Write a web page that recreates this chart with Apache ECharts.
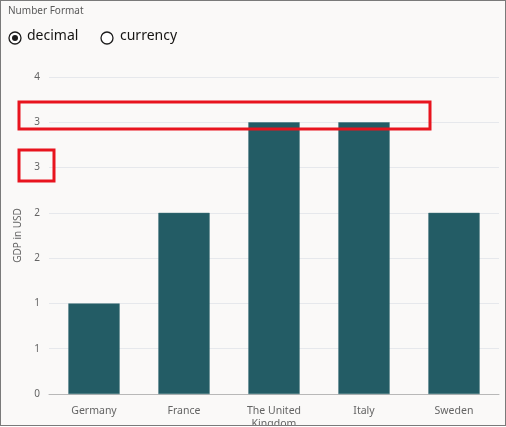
<!DOCTYPE html>
<html><head><meta charset="utf-8">
<script src="https://cdn.jsdelivr.net/npm/echarts@6/dist/echarts.min.js"></script>
<style>
html,body{margin:0;padding:0;background:#fff;}
#c{position:absolute;left:0;top:0;width:504px;height:424px;border:1px solid #7a7a7a;background:#faf9f8;}
</style></head>
<body><div id="c"></div>
<script>
const categories = ['Germany', 'France', 'The United\nKingdom', 'Italy', 'Sweden'];
const gdpValues = [1, 2, 3, 3, 2];
const yMin = 0, yMax = 3.5, yStep = 0.5;

const chart = echarts.init(document.getElementById('c'), null, {renderer: 'canvas'});
const font = 'Noto Sans';
chart.setOption({
  backgroundColor: '#faf9f8',
  animation: false,
  title: {
    text: 'Number Format', left: 2, top: 0,
    textStyle: {fontFamily: font, fontSize: 10, fontWeight: 'normal', color: '#5a5a5a'}
  },
  graphic: [
    {type: 'circle', shape: {cx: 14, cy: 37, r: 6}, style: {fill: '#fff', stroke: '#1d1d1d', lineWidth: 1.3}},
    {type: 'circle', shape: {cx: 14, cy: 37, r: 3}, style: {fill: '#1d1d1d'}},
    {type: 'text', x: 26, y: 28, style: {text: 'decimal', fontFamily: font, fontSize: 14, fill: '#161513'}},
    {type: 'circle', shape: {cx: 106, cy: 37, r: 6}, style: {fill: '#fff', stroke: '#1d1d1d', lineWidth: 1.3}},
    {type: 'text', x: 119, y: 28, style: {text: 'currency', fontFamily: font, fontSize: 14, fill: '#161513'}},
    {type: 'rect', z: 100, shape: {x: 18, y: 101, width: 411, height: 27}, style: {fill: 'none', stroke: '#e8141e', lineWidth: 3}},
    {type: 'rect', z: 100, shape: {x: 18, y: 149, width: 35, height: 31}, style: {fill: 'none', stroke: '#e8141e', lineWidth: 3}}
  ],
  grid: {left: 48, right: 6, top: 76, bottom: 31, outerBoundsMode: 'none', containLabel: false},
  xAxis: {
    type: 'category', data: categories,
    axisTick: {show: false},
    axisLine: {lineStyle: {color: '#b8b8b8', width: 1}},
    axisLabel: {fontFamily: font, fontSize: 10.5, color: '#646464', margin: 11, interval: 0, lineHeight: 13}
  },
  yAxis: {
    type: 'value', min: yMin, max: yMax, interval: yStep,
    name: 'GDP in USD', nameLocation: 'middle', nameGap: 21,
    nameTextStyle: {fontFamily: font, fontSize: 10, color: '#646464'},
    axisLabel: {fontFamily: font, fontSize: 10, color: '#646464', margin: 9,
      formatter: v => String(Math.round(v))},
    splitLine: {lineStyle: {color: '#e6e8ec', width: 1}},
    axisLine: {show: false}, axisTick: {show: false}
  },
  series: [{
    type: 'bar', data: gdpValues, barWidth: '57%',
    itemStyle: {color: '#235c65', borderColor: '#3a6f77', borderWidth: 0.5}
  }]
});
</script></body></html>
